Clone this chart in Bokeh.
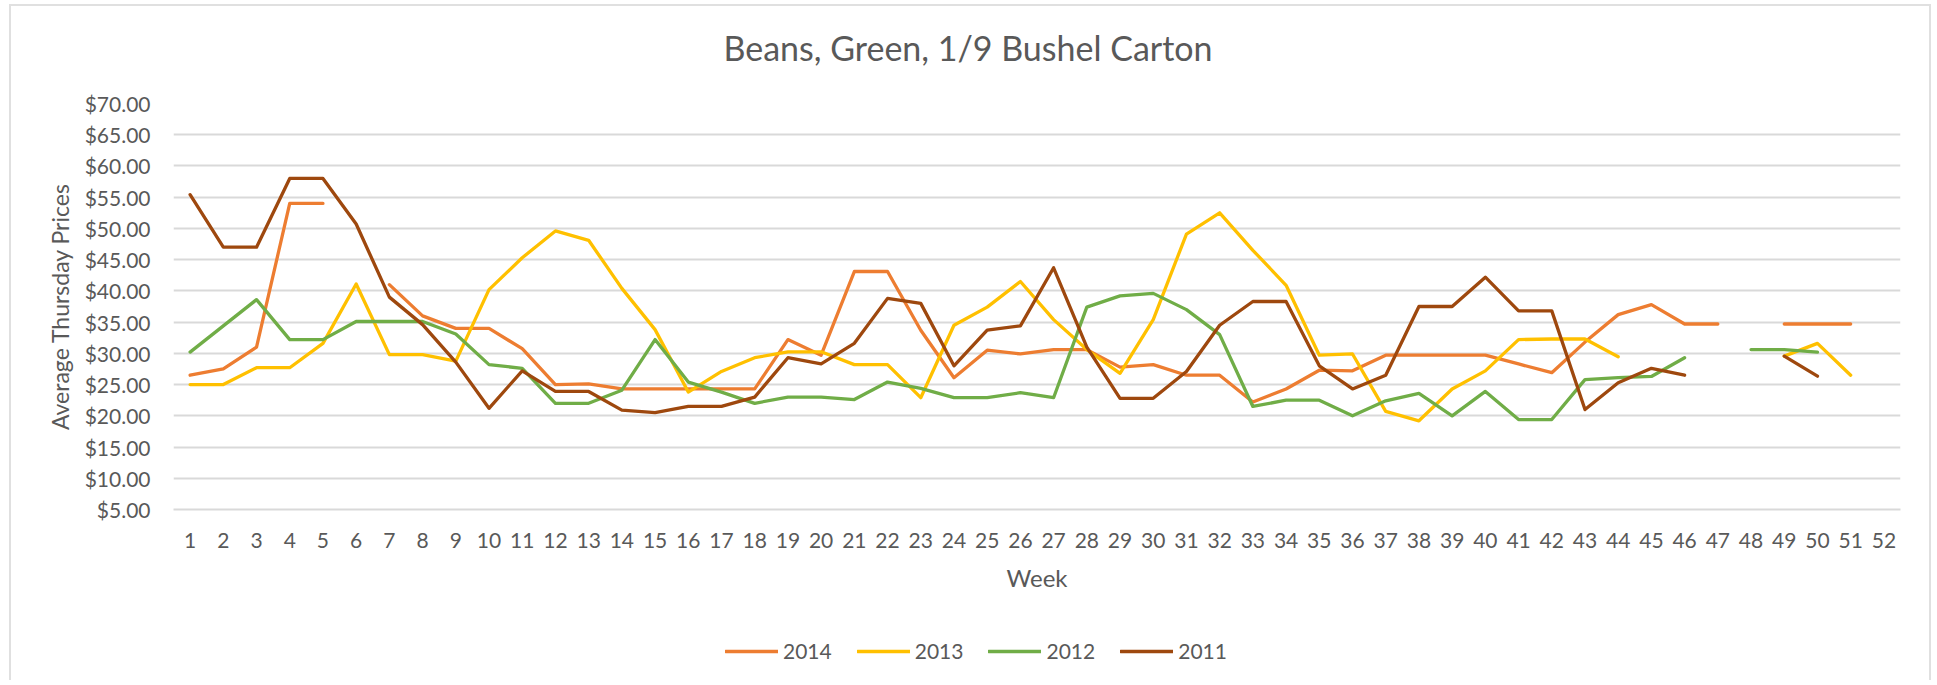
from bokeh.plotting import figure
from bokeh.layouts import column
from bokeh.models import FactorRange, Range1d, FixedTicker, NumeralTickFormatter, Legend, LegendItem, Title
from bokeh.embed import file_html
from bokeh.resources import INLINE

nan = float("nan")

weeks = [str(i) for i in range(1, 53)]
y_ticks = [5, 10, 15, 20, 25, 30, 35, 40, 45, 50, 55, 60, 65, 70]

series_names = ["2014", "2013", "2012", "2011"]

p2014 = [26.5, 27.5, 31.0, 54.0, 54.0, nan, 41.0, 36.0, 34.0, 34.0,
         30.75, 25.0, 25.1, 24.3, 24.3, 24.3, 24.3, 24.3, 32.2, 29.7,
         43.1, 43.1, 33.7, 26.1, 30.5, 29.9, 30.6, 30.6, 27.8, 28.2,
         26.5, 26.5, 22.2, 24.3, 27.3, 27.2, 29.7, 29.7, 29.7, 29.7,
         28.3, 26.9, 31.8, 36.2, 37.8, 34.7, 34.7, nan, 34.7, 34.7, 34.7, nan]

p2013 = [25.0, 25.0, 27.7, 27.7, 31.6, 41.1, 29.8, 29.8, 28.75, 40.2,
         45.3, 49.6, 48.1, 40.4, 33.8, 23.8, 27.1, 29.3, 30.25, 30.25,
         28.2, 28.2, 22.9, 34.5, 37.4, 41.5, 35.4, 30.6, 26.8, 35.4,
         49.1, 52.5, 46.5, 40.9, 29.7, 29.9, 20.7, 19.2, 24.3, 27.2,
         32.2, 32.3, 32.3, 29.45, nan, nan, nan, nan, 29.55, 31.6, 26.5, nan]

p2012 = [30.2, 34.4, 38.6, 32.2, 32.2, 35.1, 35.1, 35.1, 33.1, 28.2,
         27.6, 22.0, 22.0, 24.1, 32.2, 25.4, 23.8, 22.0, 23.0, 23.0,
         22.6, 25.4, 24.4, 22.9, 22.9, 23.7, 22.9, 37.4, 39.2, 39.6,
         37.0, 33.0, 21.5, 22.5, 22.5, 20.0, 22.4, 23.6, 20.0, 23.9,
         19.4, 19.4, 25.8, 26.1, 26.3, 29.3, nan, 30.6, 30.6, 30.2, nan, nan]

p2011 = [55.4, 47.0, 47.0, 58.0, 58.0, 50.7, 39.0, 34.6, 28.6, 21.2,
         27.2, 23.9, 23.9, 20.9, 20.5, 21.5, 21.5, 23.0, 29.3, 28.3,
         31.6, 38.8, 38.0, 28.0, 33.7, 34.4, 43.7, 31.0, 22.8, 22.8,
         27.1, 34.5, 38.3, 38.3, 28.0, 24.3, 26.5, 37.5, 37.5, 42.2,
         36.8, 36.8, 21.0, 25.3, 27.6, 26.5, nan, nan, 29.55, 26.35, nan, nan]

colors = ["#ED7D31", "#FFC000", "#70AD47", "#9E480E"]
TEXT = "#595959"
FONT = "Lato"
all_series = [p2014, p2013, p2012, p2011]

p = figure(width=1918, height=614, output_backend="svg", toolbar_location=None,
           x_range=FactorRange(factors=weeks, range_padding=0),
           y_range=Range1d(5, 70),
           min_border_left=162, min_border_right=29, min_border_top=97, min_border_bottom=111)

p.outline_line_color = None
p.background_fill_color = "white"
p.border_fill_color = "white"

# spacer between frame and title (closest to the frame), then the title
p.add_layout(Title(text=" ", text_font_size="12px", standoff=20), "above")
p.add_layout(Title(text="Beans, Green, 1/9 Bushel Carton", align="left", offset=550,
                   text_font=FONT, text_font_size="34px", text_font_style="normal",
                   text_color=TEXT, standoff=0), "above")

# axes
p.yaxis.ticker = FixedTicker(ticks=y_ticks)
p.yaxis.formatter = NumeralTickFormatter(format="$0.00")
p.yaxis.axis_line_color = None
p.yaxis.major_tick_line_color = None
p.yaxis.minor_tick_line_color = None
p.yaxis.major_label_standoff = 17
p.yaxis.major_label_text_font = FONT
p.yaxis.major_label_text_font_size = "21px"
p.yaxis.major_label_text_color = TEXT
p.yaxis.axis_label = "Average Thursday Prices"
p.yaxis.axis_label_text_font = FONT
p.yaxis.axis_label_text_font_size = "23px"
p.yaxis.axis_label_text_font_style = "normal"
p.yaxis.axis_label_text_color = TEXT
p.yaxis.axis_label_standoff = 8

p.xaxis.axis_line_color = "#D9D9D9"
p.xaxis.axis_line_width = 2
p.xaxis.major_tick_line_color = None
p.xaxis.minor_tick_line_color = None
p.xaxis.major_label_standoff = 17
p.xaxis.major_label_text_font = FONT
p.xaxis.major_label_text_font_size = "21px"
p.xaxis.major_label_text_color = TEXT
p.xaxis.axis_label = "Week"
p.xaxis.axis_label_text_font = FONT
p.xaxis.axis_label_text_font_size = "24px"
p.xaxis.axis_label_text_font_style = "normal"
p.xaxis.axis_label_text_color = TEXT
p.xaxis.axis_label_standoff = 12

p.xgrid.grid_line_color = None
p.ygrid.grid_line_color = "#D9D9D9"
p.ygrid.grid_line_width = 2

for vals, col in zip(all_series, colors):
    p.line(weeks, vals, line_color=col, line_width=3.3, line_join="round", line_cap="round")

# legend strip below the chart (series drawn out of view; only the legend shows)
pl = figure(width=1918, height=60, output_backend="svg", toolbar_location=None,
            x_range=FactorRange(factors=weeks), y_range=Range1d(1000, 1001),
            x_axis_type=None, y_axis_type=None,
            min_border_left=0, min_border_right=0, min_border_top=0, min_border_bottom=0)
pl.outline_line_color = None
pl.grid.grid_line_color = None
pl.border_fill_color = "white"
pl.background_fill_color = "white"

leg_renderers = [pl.line(weeks, vals, line_color=col, line_width=3.3, line_cap="round")
                 for vals, col in zip(all_series, colors)]
legend = Legend(items=[LegendItem(label=n, renderers=[r]) for n, r in zip(series_names, leg_renderers)],
                orientation="horizontal", location=(552, 17),
                glyph_width=53, glyph_height=20, label_standoff=5, spacing=25,
                padding=0, margin=0, border_line_color=None, background_fill_alpha=0,
                label_text_font=FONT, label_text_font_size="21px", label_text_color=TEXT)
pl.add_layout(legend, "center")

layout = column(p, pl, spacing=0,
                styles={"margin-left": "9px", "margin-top": "4px",
                        "border-left": "2px solid #E0E0E0",
                        "border-top": "2px solid #E0E0E0",
                        "border-right": "2px solid #E0E0E0"})
open("out.html", "w").write(file_html(layout, INLINE))
